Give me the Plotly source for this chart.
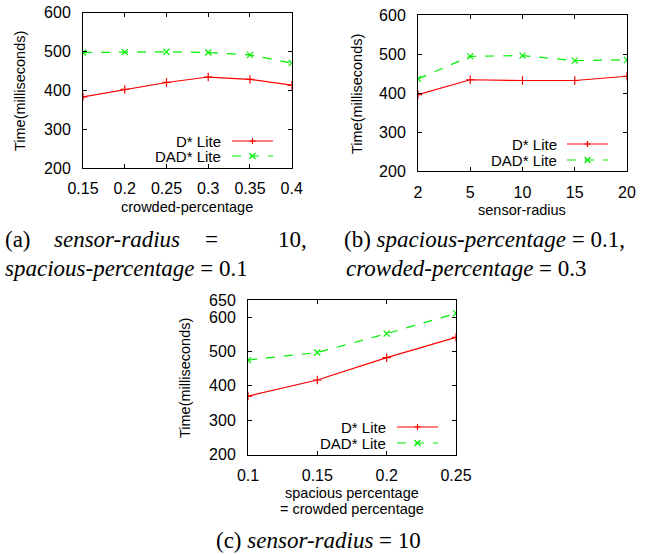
import plotly.graph_objects as go

W, H = 650, 554

# ---- data ----
a_x = [0.15, 0.2, 0.25, 0.3, 0.35, 0.4]
a_dstar = [383, 402, 420, 434, 428, 413]
a_dad = [497, 498, 499, 497, 491, 470]

b_x = ["2", "5", "10", "15", "20"]
b_dstar = [396, 434, 432, 432, 443]
b_dad = [436, 494, 496, 483, 485]

c_x = [0.1, 0.15, 0.2, 0.25]
c_dstar = [370, 417, 482, 541]
c_dad = [475, 497, 552, 611]

series_names = ["D* Lite", "DAD* Lite"]
ytick_ab = [200, 300, 400, 500, 600]
ytick_c = [200, 300, 400, 500, 600, 650]
xtick_a = [0.15, 0.2, 0.25, 0.3, 0.35, 0.4]
xtick_c = [0.1, 0.15, 0.2, 0.25]

RED = "#ff0000"
GREEN = "#00ee00"
SANS = '"Liberation Sans", Arial, sans-serif'
SERIF = '"Liberation Serif", "Times New Roman", serif'


def px(x):
    return x / W


def py(y):
    return 1 - y / H


fig = go.Figure()

# panel boxes (pixel coords: left, right, top, bottom)
boxes = {
    "a": (83, 291.7, 12.5, 168),
    "b": (418, 627, 15, 171),
    "c": (248, 456, 300, 454.5),
}


def add_series(xs, ys1, ys2, xa, ya):
    fig.add_trace(go.Scatter(x=xs, y=ys1, mode="lines+markers", name=series_names[0],
                             xaxis=xa, yaxis=ya, showlegend=False,
                             line=dict(color=RED, width=1.2),
                             marker=dict(symbol="cross-thin", size=6,
                                         line=dict(color=RED, width=1.2))))
    fig.add_trace(go.Scatter(x=xs, y=ys2, mode="lines+markers", name=series_names[1],
                             xaxis=xa, yaxis=ya, showlegend=False,
                             line=dict(color=GREEN, width=1.2, dash="dash"),
                             marker=dict(symbol="x-thin", size=6,
                                         line=dict(color=GREEN, width=1.2))))


add_series(a_x, a_dstar, a_dad, "x", "y")
add_series(b_x, b_dstar, b_dad, "x2", "y2")
add_series(c_x, c_dstar, c_dad, "x3", "y3")

axis_common = dict(showline=True, mirror="ticks", linecolor="black", linewidth=1,
                   ticks="inside", ticklen=4, tickcolor="black", tickwidth=1,
                   showgrid=False, zeroline=False, automargin=False,
                   tickfont=dict(family=SANS, size=16, color="black"))


def xdom(k):
    l, r, t, b = boxes[k]
    return [px(l), px(r)]


def ydom(k):
    l, r, t, b = boxes[k]
    return [py(b), py(t)]


fig.update_layout(
    template="none",
    width=W, height=H, margin=dict(l=0, r=0, t=0, b=0, pad=0),
    paper_bgcolor="white", plot_bgcolor="white", showlegend=False,
    xaxis=dict(domain=xdom("a"), anchor="y", range=[0.15, 0.4], tickvals=xtick_a,
               ticktext=[f"{v:g}" for v in xtick_a], ticklabelstandoff=6, **axis_common),
    yaxis=dict(domain=ydom("a"), anchor="x", range=[200, 600], tickvals=ytick_ab,
               ticklabelstandoff=8, **axis_common),
    xaxis2=dict(domain=xdom("b"), anchor="y2", type="category", range=[0, 4],
                ticklabelstandoff=7, **axis_common),
    yaxis2=dict(domain=ydom("b"), anchor="x2", range=[200, 600], tickvals=ytick_ab,
                ticklabelstandoff=8, **axis_common),
    xaxis3=dict(domain=xdom("c"), anchor="y3", range=[0.1, 0.25], tickvals=xtick_c,
                ticktext=[f"{v:g}" for v in xtick_c], ticklabelstandoff=6, **axis_common),
    yaxis3=dict(domain=ydom("c"), anchor="x3", range=[200, 650], tickvals=ytick_c,
                ticklabelstandoff=8, **axis_common),
)

annotations = []
shapes = []


def text(x, y, s, size=14.5, family=SANS, xanchor="center", yanchor="middle", angle=0,
         height=None):
    ann = dict(x=px(x), y=py(y), xref="paper", yref="paper", text=s,
               showarrow=False, xanchor=xanchor, yanchor=yanchor,
               textangle=angle, borderpad=0,
               font=dict(family=family, size=size, color="black"))
    if height is not None:
        ann["height"] = height
    annotations.append(ann)


# axis titles
text(20, 91, "Time(milliseconds)", angle=-90)
text(187, 207, "crowded-percentage")
text(357, 94, "Time(milliseconds)", angle=-90)
text(522, 210, "sensor-radius")
text(185, 378, "Time(milliseconds)", angle=-90)
text(352, 493, "spacious percentage")
text(352, 509, "= crowded percentage")

# legends
legends = [(222, 232, 273, 141, 156), (558, 567, 608, 144, 160), (387, 397, 438, 427, 443)]
for tx, l0, l1, y1, y2 in legends:
    text(tx, y1, series_names[0], size=15, xanchor="right", height=14)
    text(tx, y2, series_names[1], size=15, xanchor="right", height=14)
    shapes.append(dict(type="line", xref="paper", yref="paper", x0=px(l0), x1=px(l1),
                       y0=py(y1), y1=py(y1), line=dict(color=RED, width=1.2)))
    shapes.append(dict(type="line", xref="paper", yref="paper", x0=px(l0), x1=px(l1),
                       y0=py(y2), y1=py(y2), line=dict(color=GREEN, width=1.2, dash="dash")))
    m = (l0 + l1) / 2
    shapes.append(dict(type="path", xref="paper", yref="paper",
                       path=f"M {px(m-3)} {py(y1)} L {px(m+3)} {py(y1)} M {px(m)} {py(y1-3)} L {px(m)} {py(y1+3)}",
                       line=dict(color=RED, width=1.2)))
    shapes.append(dict(type="path", xref="paper", yref="paper",
                       path=f"M {px(m-3)} {py(y2-3)} L {px(m+3)} {py(y2+3)} M {px(m-3)} {py(y2+3)} L {px(m+3)} {py(y2-3)}",
                       line=dict(color=GREEN, width=1.2)))

# captions
CS = 23
text(4, 240, "(a)", size=CS, family=SERIF, xanchor="left")
text(53, 240, "<i>sensor-radius</i>", size=CS, family=SERIF, xanchor="left")
text(212, 240, "=", size=CS, family=SERIF)
text(308, 240, "10,", size=CS, family=SERIF, xanchor="right")
text(4, 268, "<i>spacious-percentage</i> = 0.1", size=CS, family=SERIF, xanchor="left")
text(343, 240, "(b) <i>spacious-percentage</i> = 0.1,", size=CS, family=SERIF, xanchor="left")
text(345, 268, "<i>crowded-percentage</i> = 0.3", size=CS, family=SERIF, xanchor="left")
text(215, 540, "(c) <i>sensor-radius</i> = 10", size=CS, family=SERIF, xanchor="left")

fig.update_layout(annotations=annotations, shapes=shapes)
fig.write_html("out.html", config={"displayModeBar": False},
               post_script="document.body.style.margin='0';document.body.style.overflow='hidden';")
